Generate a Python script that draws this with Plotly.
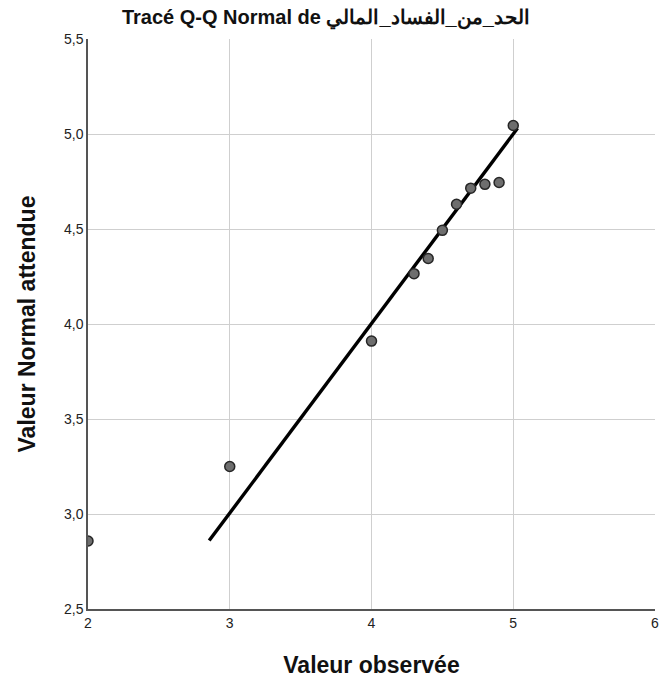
import plotly.graph_objects as go

observed = [2.0, 3.0, 4.0, 4.3, 4.4, 4.5, 4.6, 4.7, 4.8, 4.9, 5.0]
expected = [2.858, 3.25, 3.91, 4.265, 4.345, 4.493, 4.63, 4.715, 4.735, 4.745, 5.045]
line_x = [2.855, 5.03]
line_y = [2.86, 5.03]

x_ticks = [2, 3, 4, 5, 6]
y_ticks = [2.5, 3.0, 3.5, 4.0, 4.5, 5.0, 5.5]

fig = go.Figure()
fig.add_trace(go.Scatter(x=line_x, y=line_y, mode="lines",
                         line=dict(color="black", width=3.4), showlegend=False,
                         hoverinfo="skip"))
fig.add_trace(go.Scatter(x=observed, y=expected, mode="markers",
                         marker=dict(size=10, color="#6e6e6e",
                                     line=dict(color="#262626", width=1.5)),
                         showlegend=False, cliponaxis=True))

font_family = "Liberation Sans, Arial, sans-serif"
fig.update_layout(
    width=665, height=686,
    margin=dict(l=88, r=6, t=39, b=77),
    paper_bgcolor="white", plot_bgcolor="white",
    separators=", ",
    font=dict(family=font_family, color="#222222"),
    title=dict(text="<b>Tracé Q-Q Normal de الحد_من_الفساد_المالي</b>",
               x=0.49, xanchor="center", y=0.986, yanchor="top",
               font=dict(size=20, color="#111111", family=font_family)),
    xaxis=dict(range=[2, 6], tickvals=x_ticks, tickformat=".0f",
               showgrid=True, gridcolor="#cfcfcf", gridwidth=1,
               zeroline=False, showline=True, linecolor="#555555", linewidth=1.5,
               ticks="", tickfont=dict(size=14, color="#222222"),
               title=dict(text="<b>Valeur observée</b>", standoff=27,
                          font=dict(size=23, color="#111111"))),
    yaxis=dict(range=[2.5, 5.5], tickvals=y_ticks, tickformat=".1f",
               showgrid=True, gridcolor="#cfcfcf", gridwidth=1,
               zeroline=False, showline=True, linecolor="#555555", linewidth=1.5,
               ticks="", tickfont=dict(size=14, color="#222222"),
               title=dict(text="<b>Valeur Normal attendue</b>", standoff=22,
                          font=dict(size=23, color="#111111"))),
)

fig.write_html("out.html")
